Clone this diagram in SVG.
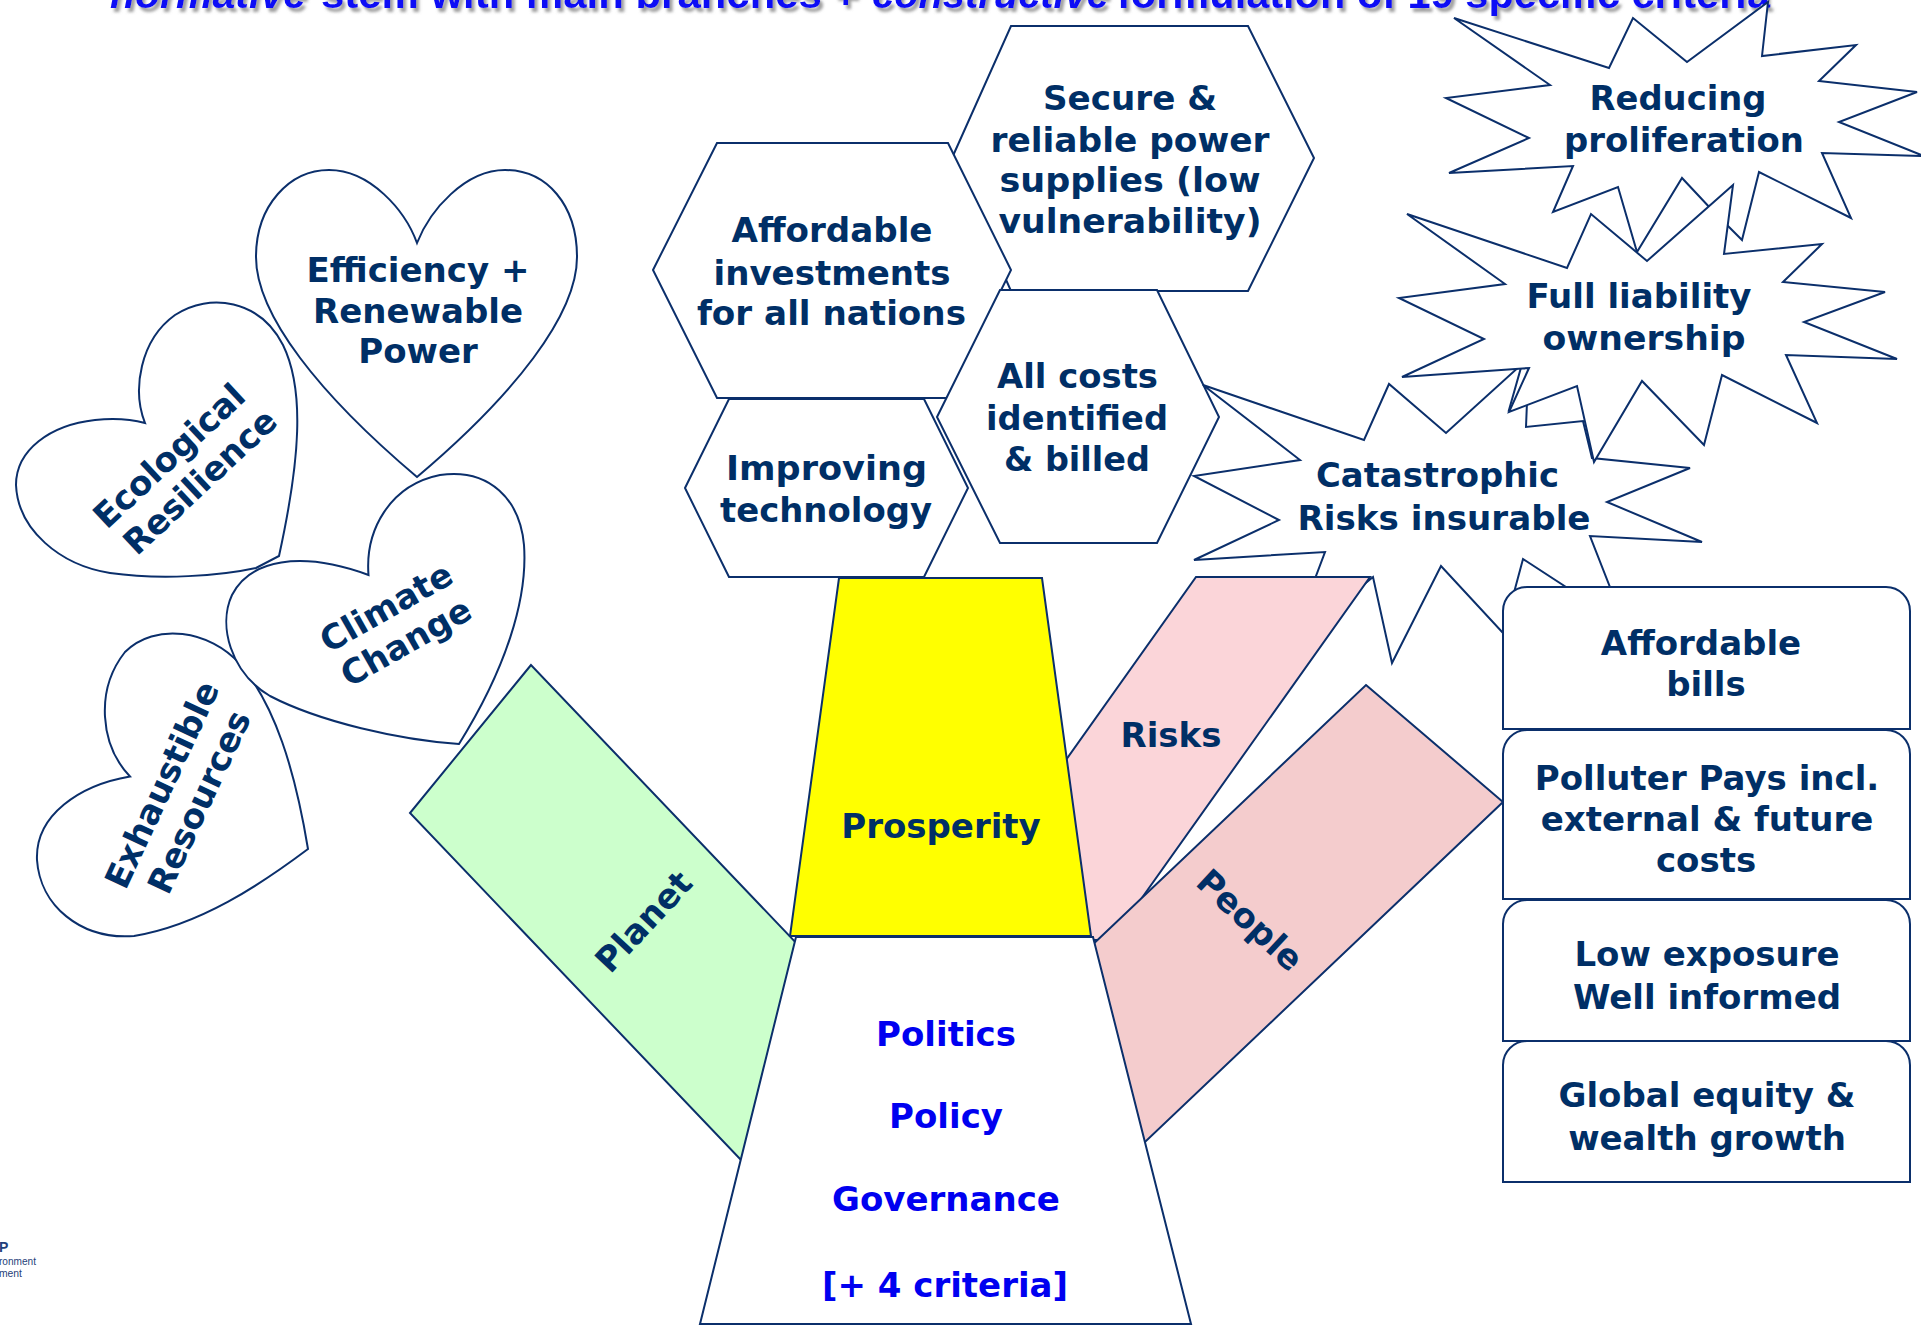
<svg xmlns="http://www.w3.org/2000/svg" width="1921" height="1326" viewBox="0 0 1921 1326">
<defs>
<style>
.s{fill:#fff;stroke:#0B2F6B;stroke-width:2;stroke-linejoin:miter}
.t{font-family:"DejaVu Sans",Verdana,sans-serif;font-weight:bold;font-size:34px;fill:#002F66;text-anchor:middle}
.h{font-size:33px}
.b{fill:#0000F0}
.ti{font-family:"Liberation Sans",Arial,sans-serif;font-weight:bold;font-size:40px;fill:#0A0AF5}
</style>
<filter id="shadow" x="-5%" y="-60%" width="110%" height="220%"><feDropShadow dx="3" dy="4" stdDeviation="1.5" flood-color="#888" flood-opacity="0.8"/></filter>
</defs>
<rect width="1921" height="1326" fill="#fff"/>

<g id="title" class="ti" filter="url(#shadow)">
<text x="110" y="8" font-style="italic" textLength="196" lengthAdjust="spacingAndGlyphs">normative</text>
<text x="321" y="8" textLength="537" lengthAdjust="spacingAndGlyphs">stem with main branches +</text>
<text x="872" y="8" font-style="italic" textLength="237" lengthAdjust="spacingAndGlyphs">constructive</text>
<text x="1117" y="8" textLength="653" lengthAdjust="spacingAndGlyphs">formulation of 19 specific criteria</text>
</g>

<g id="heart-exhaustible">
<path class="s" d="M130,776.5 C100,745 95,690 125,652 C155,622 210,630 240,664 C275,705 295,770 308,849 C260,885 200,925 134,936 C80,940 40,905 37,860 C35,815 80,785 130,776.5 Z"/>
<g transform="translate(180,793) rotate(-65)"><text class="t" x="0" y="-8">Exhaustible</text><text class="t" x="0" y="33">Resources</text></g>
</g>
<g id="heart-ecological">
<path class="s" d="M145,423 C132,390 140,340 175,315 C210,292 260,300 283,345 C305,390 300,460 279,556 L256,568 C220,576 160,580 110,573 C60,565 18,530 16,485 C16,450 50,425 95,420 C115,418 130,419 145,423 Z"/>
<g transform="translate(184,469) rotate(-43)"><text class="t" x="-2" y="-8">Ecological</text><text class="t" x="3" y="32">Resilience</text></g>
</g>
<g id="heart-efficiency">
<path class="s" d="M417,243 C405,210 370,170 329,170 C290,170 256,205 256,257 C256,315 320,395 417,477 C514,395 577,315 577,257 C577,205 547,170 505,170 C465,170 430,210 417,243 Z"/>
<text class="t" x="418" y="282">Efficiency +</text>
<text class="t" x="418" y="323">Renewable</text>
<text class="t" x="418" y="363">Power</text>
</g>
<g id="heart-climate">
<path class="s" d="M368.5,575 C365,530 390,485 440,475 C490,468 520,500 524,545 C528,600 505,670 459,744 C400,740 320,722 270,696 C230,672 218,625 232,595 C250,560 300,550 368.5,575 Z"/>
<g transform="translate(396,624.5) rotate(-29.5)"><text class="t" x="0" y="-8">Climate</text><text class="t" x="0" y="32">Change</text></g>
</g>

<g id="hex-secure">
<polygon class="s" points="952,158 1011,26 1248,26 1314,158 1248,291 1011,291"/>
<text class="t h" x="1130" y="110" textLength="174" lengthAdjust="spacingAndGlyphs">Secure &amp;</text>
<text class="t h" x="1130" y="152" textLength="279" lengthAdjust="spacingAndGlyphs">reliable power</text>
<text class="t h" x="1130" y="192" textLength="261" lengthAdjust="spacingAndGlyphs">supplies (low</text>
<text class="t h" x="1130" y="233" textLength="263" lengthAdjust="spacingAndGlyphs">vulnerability)</text>
</g>
<g id="hex-affordable">
<polygon class="s" points="653,270 717,143 948,143 1011,270 948,398 717,398"/>
<text class="t h" x="832" y="242" textLength="201" lengthAdjust="spacingAndGlyphs">Affordable</text>
<text class="t h" x="832" y="285" textLength="237" lengthAdjust="spacingAndGlyphs">investments</text>
<text class="t h" x="831.5" y="325" textLength="269" lengthAdjust="spacingAndGlyphs">for all nations</text>
</g>
<g id="hex-costs">
<polygon class="s" points="937,417 1000,290 1157,290 1219,417 1157,543 1000,543"/>
<text class="t h" x="1077.5" y="388" textLength="161" lengthAdjust="spacingAndGlyphs">All costs</text>
<text class="t h" x="1077" y="430" textLength="182" lengthAdjust="spacingAndGlyphs">identified</text>
<text class="t h" x="1077" y="471" textLength="146" lengthAdjust="spacingAndGlyphs">&amp; billed</text>
</g>
<g id="hex-technology">
<polygon class="s" points="685,488 729,399 924,399 968,488 924,577 729,577"/>
<text class="t h" x="826.5" y="480" textLength="201" lengthAdjust="spacingAndGlyphs">Improving</text>
<text class="t h" x="826" y="522" textLength="212" lengthAdjust="spacingAndGlyphs">technology</text>
</g>

<g id="star-proliferation">
<polygon class="s" points="1454,18 1609,68 1633,18 1687,62 1768,2 1762,56 1856,45 1819,81 1917,92 1839,122 1924,156 1822,153 1851,218 1759,172 1742,240 1712,210 1682,178 1637,252 1618,187 1553,212 1573,166 1449,173 1529,138 1446,98 1550,85"/>
<text class="t h" x="1678" y="110" textLength="177" lengthAdjust="spacingAndGlyphs">Reducing</text>
<text class="t h" x="1684" y="152" textLength="240" lengthAdjust="spacingAndGlyphs">proliferation</text>
</g>
<g id="star-catastrophic">
<polygon class="s" points="1203,385 1364,440 1389,384 1446,433 1522,364 1509,410 1527,402 1526,427 1583,421 1592,458 1690,468 1607,502 1702,542 1590,536 1615,600 1586,600 1523,559 1512,600 1503,633 1441,566 1392,663 1373,577 1345,600 1313,584 1325,552 1194,560 1279,520 1194,476 1300,460"/>
<text class="t h" x="1437.5" y="487" textLength="243" lengthAdjust="spacingAndGlyphs">Catastrophic</text>
<text class="t h" x="1444" y="530" textLength="293" lengthAdjust="spacingAndGlyphs">Risks insurable</text>
</g>
<g id="star-liability">
<polygon class="s" points="1407,214 1567,268 1591,214 1647,261 1733,185 1724,254 1822,244 1783,282 1885,292 1804,322 1897,359 1786,355 1817,423 1722,375 1704,445 1642,381 1594,462 1577,386 1509,412 1529,368 1402,377 1484,339 1399,298 1505,284"/>
<text class="t h" x="1639" y="308" textLength="225" lengthAdjust="spacingAndGlyphs">Full liability</text>
<text class="t h" x="1644" y="350" textLength="203" lengthAdjust="spacingAndGlyphs">ownership</text>
</g>

<g id="branch-risks">
<polygon class="s" style="fill:#FBD5D9" points="1196,577 1370,577 1112,940 938,940"/>
<text class="t" x="1171" y="747">Risks</text>
</g>
<g id="branch-people">
<polygon class="s" style="fill:#F4CCCD" points="1366,685 1503,802 1145,1142 1008,1025"/>
<g transform="translate(1250,920) rotate(43)"><text class="t" x="0" y="12">People</text></g>
</g>
<g id="branch-planet">
<polygon class="s" style="fill:#CCFFCC" points="531,665 410,813 741,1160 862,1012"/>
<g transform="translate(643.5,921.5) rotate(-47)"><text class="t" x="0" y="12">Planet</text></g>
</g>

<g id="box-bills">
<path class="s" d="M1503,729 V611 A24,24 0 0 1 1527,587 H1886 A24,24 0 0 1 1910,611 V729 Z"/>
<text class="t" x="1701" y="655">Affordable</text>
<text class="t" x="1706" y="696">bills</text>
</g>
<g id="box-polluter">
<path class="s" d="M1503,899 V754 A24,24 0 0 1 1527,730 H1886 A24,24 0 0 1 1910,754 V899 Z"/>
<text class="t" x="1707" y="790">Polluter Pays incl.</text>
<text class="t" x="1707" y="831">external &amp; future</text>
<text class="t" x="1706" y="872">costs</text>
</g>
<g id="box-exposure">
<path class="s" d="M1503,1041 V924 A24,24 0 0 1 1527,900 H1886 A24,24 0 0 1 1910,924 V1041 Z"/>
<text class="t" x="1707" y="966">Low exposure</text>
<text class="t" x="1707" y="1009">Well informed</text>
</g>
<g id="box-equity">
<path class="s" d="M1503,1182 V1065 A24,24 0 0 1 1527,1041 H1886 A24,24 0 0 1 1910,1065 V1182 Z"/>
<text class="t" x="1707" y="1107">Global equity &amp;</text>
<text class="t" x="1707" y="1150">wealth growth</text>
</g>

<g id="trunk">
<polygon class="s" points="796,937 1093,937 1191,1324 700,1324"/>
<text class="t b" x="946" y="1046">Politics</text>
<text class="t b" x="946" y="1128">Policy</text>
<text class="t b" x="946" y="1211">Governance</text>
<text class="t b" x="945" y="1297">[+ 4 criteria]</text>
</g>
<g id="prosperity">
<polygon class="s" style="fill:#FFFF00" points="839,578 1042,578 1091,936 790,936"/>
<text class="t" x="941" y="838">Prosperity</text>
</g>

<g id="connectors"></g>

<g id="logo" font-family="'Liberation Sans',Arial,sans-serif" fill="#1F3F7A">
<text x="-1" y="1252" font-size="14" font-weight="bold">P</text>
<text x="-1" y="1265" font-size="11" textLength="37" lengthAdjust="spacingAndGlyphs">ronment</text>
<text x="-1" y="1277" font-size="11" textLength="23" lengthAdjust="spacingAndGlyphs">ment</text>
</g>
</svg>
